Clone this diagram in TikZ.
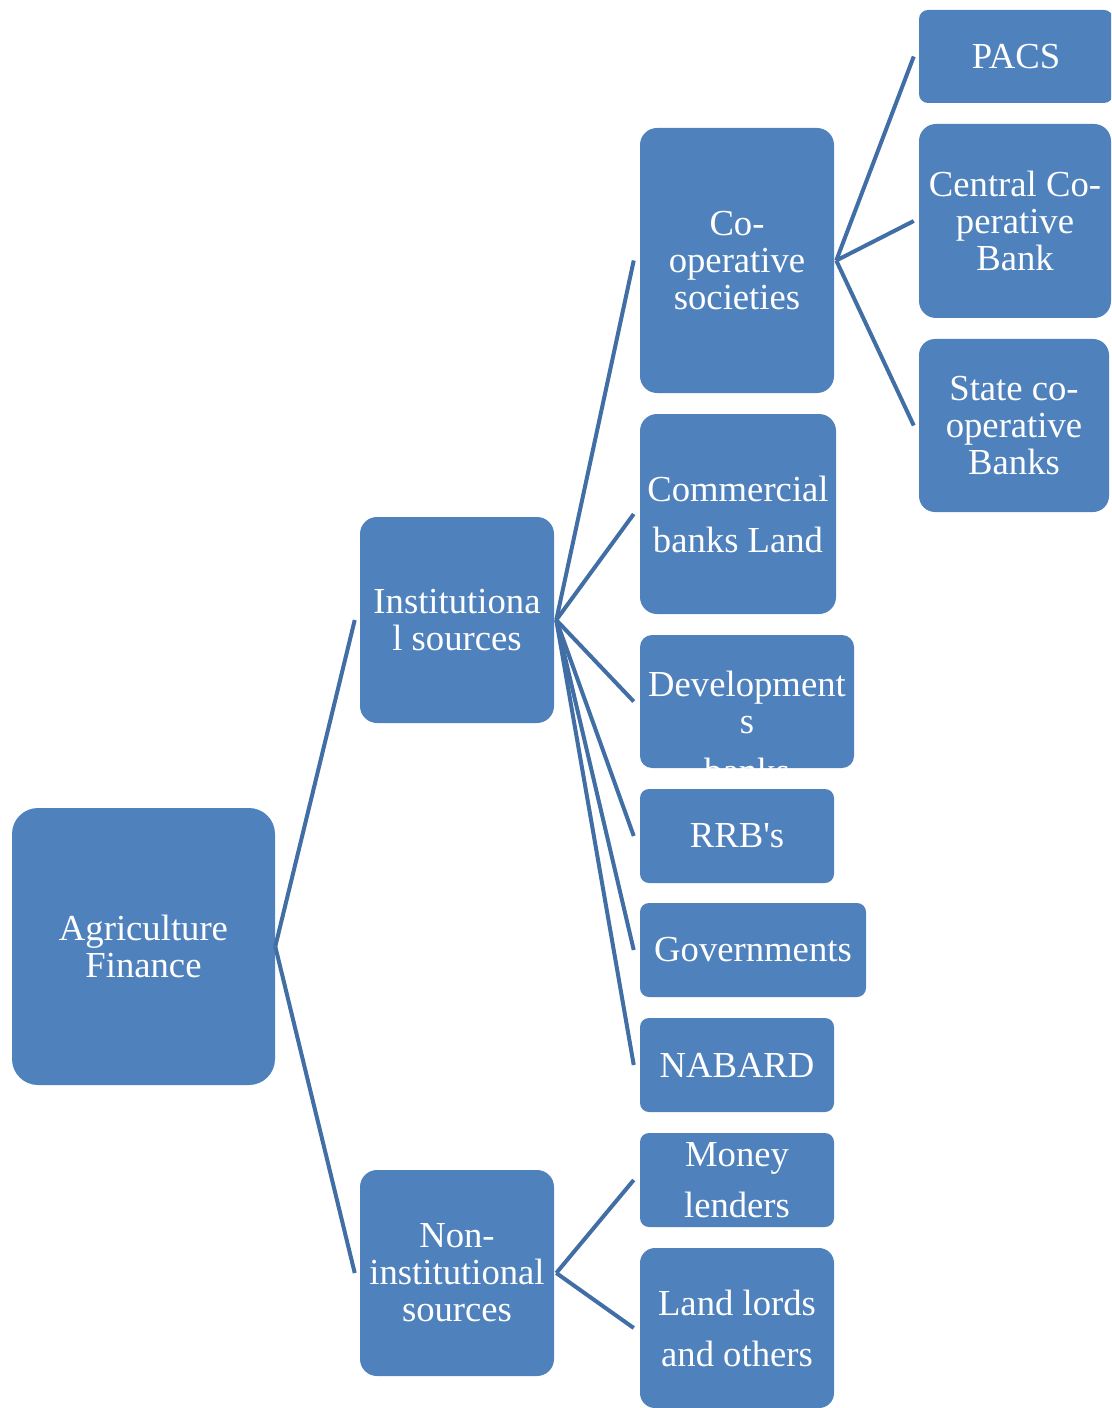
\documentclass[tikz,border=0pt]{standalone}
\usepackage{fontspec}
\setmainfont{Liberation Serif}[Ligatures=TeXOff]
\definecolor{boxblue}{HTML}{4F81BD}
\definecolor{lineblue}{RGB}{65,111,165}
\def\pxu{0.75pt}
\begin{document}
\begin{tikzpicture}[x=0.75pt,y=-0.75pt,
  box/.style={fill=boxblue,draw=none,text=white,align=center,inner sep=0pt,
    font=\fontsize{27.5}{27.75}\selectfont},
  wide/.style={font=\fontsize{27.5}{38.25}\selectfont},
  conn/.style={draw=lineblue,line width=3pt},
  txt/.style={text=white,align=center,inner sep=0pt,font=\fontsize{27.5}{27.75}\selectfont}]
\useasboundingbox (0,0) rectangle (1111,1408);
\clip (0,0) rectangle (1111,1408);
% level 0
\node[box,minimum width=263*\pxu,minimum height=277*\pxu,rounded corners=26*\pxu] (agri) at (143.5,946.5) {Agriculture\\Finance};
% level 1
\node[box,minimum width=194*\pxu,minimum height=206*\pxu,rounded corners=17*\pxu] (inst) at (457,620) {Institutiona\\l sources};
\node[box,minimum width=194*\pxu,minimum height=206*\pxu,rounded corners=17*\pxu] (noninst) at (457,1273) {Non-\\institutional\\sources};
% level 2
\node[box,minimum width=194*\pxu,minimum height=265*\pxu,rounded corners=17*\pxu] (coop) at (737,260.5) {Co-\\operative\\societies};
\node[box,wide,minimum width=196*\pxu,minimum height=200*\pxu,rounded corners=17*\pxu] (comm) at (738,514) {Commercial\\banks Land};
\node[box,minimum width=214*\pxu,minimum height=133*\pxu,rounded corners=12*\pxu] (dev) at (747,701.5) {};
\begin{scope}
\clip[rounded corners=12*\pxu] (dev.south west) rectangle (dev.north east);
\node[txt] (devtext) at (747,727) {Development\\s\\[9.75pt]banks};
\end{scope}
\node[box,minimum width=194*\pxu,minimum height=94*\pxu,rounded corners=9*\pxu] (rrb) at (737,836) {RRB's};
\node[box,minimum width=226*\pxu,minimum height=94*\pxu,rounded corners=9*\pxu] (gov) at (753,950) {Governments};
\node[box,minimum width=194*\pxu,minimum height=94*\pxu,rounded corners=9*\pxu] (nabard) at (737,1065) {NABARD};
\node[box,wide,minimum width=194*\pxu,minimum height=94*\pxu,rounded corners=9*\pxu] (money) at (737,1180) {Money\\lenders};
\node[box,wide,minimum width=194*\pxu,minimum height=160*\pxu,rounded corners=15*\pxu] (land) at (737,1328) {Land lords\\and others};
% level 3
\node[box,minimum width=194*\pxu,minimum height=93*\pxu,rounded corners=9*\pxu] (pacs) at (1016,56.5) {PACS};
\node[box,minimum width=192*\pxu,minimum height=194*\pxu,rounded corners=17*\pxu] (ccb) at (1015,221) {Central Co-\\perative\\Bank};
\node[box,minimum width=190*\pxu,minimum height=173*\pxu,rounded corners=16*\pxu] (scb) at (1014,425.5) {State co-\\operative\\Banks};
% connectors
\draw[conn] (agri.east) -- ([xshift=-3.75pt]inst.west);
\draw[conn] (agri.east) -- ([xshift=-3.75pt]noninst.west);
\foreach \t in {coop,comm,dev,rrb,gov,nabard}
  \draw[conn] ([xshift=1.5pt]inst.east) -- ([xshift=-4.5pt]\t.west);
\foreach \t in {money,land}
  \draw[conn] ([xshift=1.5pt]noninst.east) -- ([xshift=-4.5pt]\t.west);
\foreach \t in {pacs,ccb,scb}
  \draw[conn] ([xshift=1.5pt]coop.east) -- ([xshift=-3.75pt]\t.west);
\end{tikzpicture}
\end{document}
